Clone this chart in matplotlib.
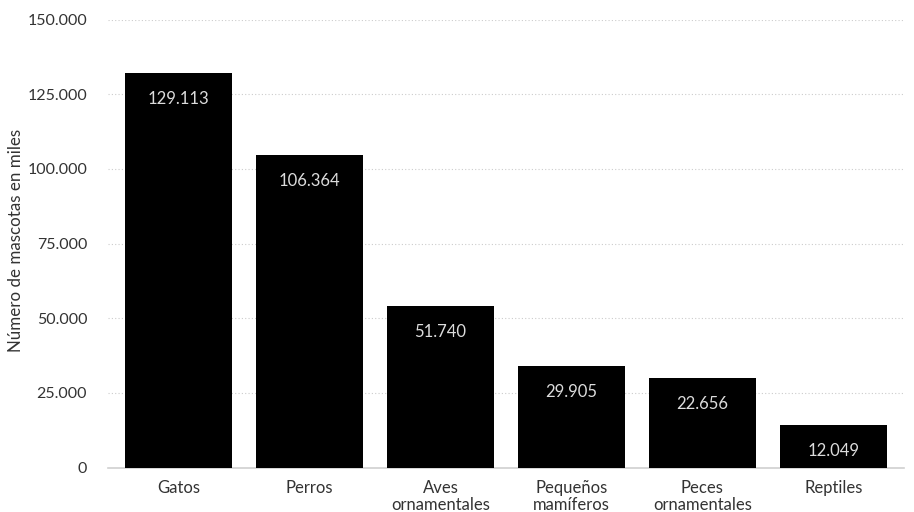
import matplotlib
matplotlib.use("Agg")
import matplotlib.pyplot as plt
from matplotlib.ticker import FuncFormatter

categories = ["Gatos", "Perros", "Aves\nornamentales", "Pequeños\nmamíferos", "Peces\nornamentales", "Reptiles"]
bar_values = [132100, 104700, 54100, 34000, 30000, 14300]
value_labels = ["129.113", "106.364", "51.740", "29.905", "22.656", "12.049"]
y_ticks = [0, 25000, 50000, 75000, 100000, 125000, 150000]
y_label = "Número de mascotas en miles"

plt.rcParams['font.family'] = ['Lato', 'DejaVu Sans']

fig = plt.figure(figsize=(9.14, 5.12), dpi=100)
ax = fig.add_axes([108/914, 1-467.7/512, (904-108)/914, (467.7-19.5)/512])

x = list(range(len(categories)))
ax.bar(x, bar_values, width=0.82, color="black", zorder=3)

for xi, v, lab in zip(x, bar_values, value_labels):
    ax.annotate(lab, xy=(xi, v), xytext=(0, -26), textcoords="offset pixels",
                ha="center", va="center", color="#dcdcdc", fontsize=12, zorder=4)

ax.set_xlim(-0.54, 5.54)
ax.set_ylim(0, 150000)
ax.set_yticks(y_ticks)
ax.yaxis.set_major_formatter(FuncFormatter(lambda v, p: f"{int(v):,}".replace(",", ".")))
ax.set_xticks(x)
ax.set_xticklabels(categories, fontsize=12, color="#333333", linespacing=1.1)
ax.tick_params(axis="y", labelsize=11.5, labelcolor="#333333", length=0, pad=15)
ax.tick_params(axis="x", length=0, pad=8.5)

ax.grid(axis="y", color="#cccccc", linestyle=(0, (1, 2)), linewidth=0.8, zorder=0)
for s in ["top", "right", "left"]:
    ax.spines[s].set_visible(False)
ax.spines["bottom"].set_color("#d0d0d0")
ax.spines["bottom"].set_linewidth(1.2)

ax.set_ylabel(y_label, fontsize=12.2, color="#333333")
ax.yaxis.set_label_coords((24 - 108) / 796, (467.7 - 240) / 448.2)

fig.savefig("out.png", dpi=100)
